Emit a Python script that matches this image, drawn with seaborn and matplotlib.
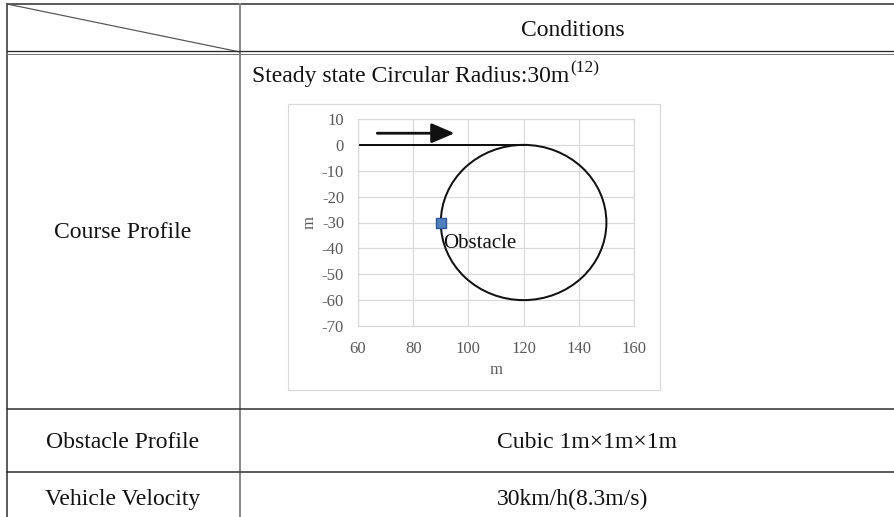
import numpy as np
import pandas as pd
import matplotlib
matplotlib.use("Agg")
import matplotlib.pyplot as plt
from matplotlib.patches import Circle, Rectangle
import seaborn as sns

# ---------------- data ----------------
header = "Conditions"
row_labels = ["Course Profile", "Obstacle Profile", "Vehicle Velocity"]
row_values = ["Cubic 1m×1m×1m", "30km/h(8.3m/s)"]
chart_title = "Steady state Circular Radius:30m"
chart_ref = "(12)"

approach_x = [60, 120]
approach_y = [0, 0]
circle_center = (120, -30)
circle_radius = 30
obstacle_x = [90]
obstacle_y = [-30]
obstacle_label = "Obstacle"
arrow_start = (67, 4.5)
arrow_end = (95, 4.5)
x_ticks = [60, 80, 100, 120, 140, 160]
y_ticks = [10, 0, -10, -20, -30, -40, -50, -60, -70]
x_label = "m"
y_label = "m"

# ---------------- style ----------------
sns.set_theme(style="white")
plt.rcParams["font.family"] = ["Liberation Serif", "DejaVu Serif"]
plt.rcParams["axes.unicode_minus"] = False

W, H = 894, 517
fig = plt.figure(figsize=(W / 100, H / 100), dpi=100)

bg = fig.add_axes([0, 0, 1, 1])
bg.set_xlim(0, W)
bg.set_ylim(H, 0)
bg.axis("off")

dark = "#2b2b2b"
px = 0.72
# table structure
bg.plot([7, W], [4, 4], color=dark, lw=1.5 * px)
bg.plot([7, 7], [4, H], color=dark, lw=1.5 * px)
bg.plot([240, 240], [4, H], color="#8c8c8c", lw=2 * px)
bg.plot([7, 240], [4, 52], color="#555555", lw=1.2 * px)
bg.plot([7, W], [51.3, 51.3], color=dark, lw=1.3 * px)
bg.plot([7, W], [53.8, 53.8], color="#777777", lw=1.0 * px)
bg.plot([7, W], [409, 409], color=dark, lw=1.5 * px)
bg.plot([7, W], [471.5, 471.5], color=dark, lw=1.5 * px)

tk = dict(fontsize=17, color="#111111", ha="center", va="center")
bg.text(573, 31, header, **tk)
bg.text(123, 233, row_labels[0], **tk)
bg.text(123, 443, row_labels[1], **tk)
bg.text(123, 499, row_labels[2], **tk)
bg.text(587, 443, row_values[0], **tk)
bg.text(573, 499, row_values[1], **tk)
bg.text(252, 82, chart_title, fontsize=17,
        color="#111111", ha="left", va="baseline")
bg.text(570, 72, chart_ref, fontsize=12.5,
        color="#111111", ha="left", va="baseline")

# chart frame
bg.add_patch(Rectangle((288, 104), 372, 286, facecolor="white",
                       edgecolor="#d9d9d9", lw=1.2 * px))

# ---------------- inset chart ----------------
l, r, t, b = 358, 634, 119, 326
ax = fig.add_axes([l / W, (H - b) / H, (r - l) / W, (b - t) / H])
ax.set_zorder(5)
ax.set_facecolor("white")

df_line = pd.DataFrame({"x": approach_x, "y": approach_y})
sns.lineplot(data=df_line, x="x", y="y", ax=ax, color="#111111", lw=2.0 * px,
             sort=False, estimator=None)
ax.add_patch(Circle(circle_center, circle_radius, fill=False,
                    edgecolor="#111111", lw=2.0 * px, zorder=3))
df_obs = pd.DataFrame({"x": obstacle_x, "y": obstacle_y})
sns.scatterplot(data=df_obs, x="x", y="y", ax=ax, marker="s", s=60,
                color="#4F81BD", edgecolor="#2F5597", linewidth=1.0, zorder=4)
ax.text(obstacle_x[0] + 0.8, obstacle_y[0] - 8.3, obstacle_label, fontsize=15,
        color="#111111", ha="left", va="center", zorder=5)
ax.annotate("", xy=arrow_end, xytext=arrow_start,
            arrowprops=dict(arrowstyle="-|>,head_length=0.7,head_width=0.3",
                            color="#111111", lw=2.8 * px,
                            mutation_scale=20, shrinkA=0, shrinkB=0))

ax.set_xlim(x_ticks[0], x_ticks[-1])
ax.set_ylim(y_ticks[-1], y_ticks[0])
ax.set_xticks(x_ticks)
ax.set_yticks(y_ticks)
ax.grid(True, color="#d9d9d9", lw=1.2 * px)
for s in ax.spines.values():
    s.set_color("#d9d9d9")
    s.set_linewidth(1.2 * px)
ax.tick_params(axis="both", length=0, labelsize=12, labelcolor="#595959")
ax.tick_params(axis="x", pad=11)
ax.tick_params(axis="y", pad=10)
ax.set_xlabel(x_label, fontsize=12, color="#595959")
ax.set_ylabel(y_label, fontsize=12, color="#595959")
ax.xaxis.set_label_coords(0.5, -0.2126)
ax.yaxis.set_label_coords(-0.174, 0.502)
ax.yaxis.label.set_va("center")
ax.xaxis.label.set_va("center")

fig.savefig("out.png", dpi=100)
